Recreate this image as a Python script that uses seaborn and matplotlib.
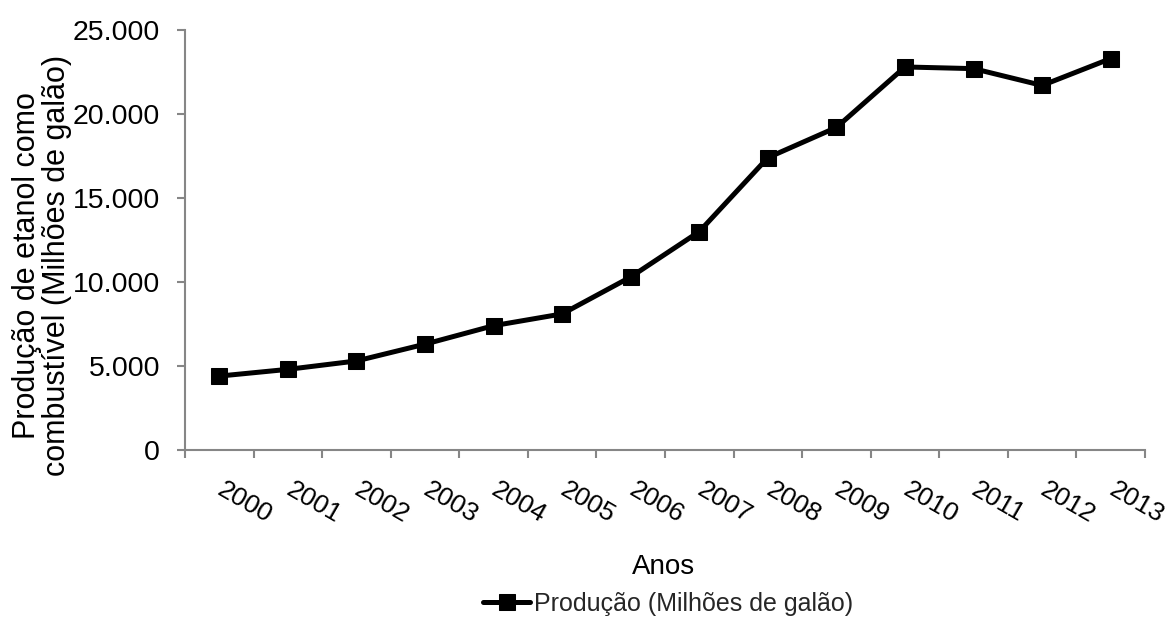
import matplotlib
matplotlib.use("Agg")
import matplotlib.pyplot as plt
import matplotlib.transforms as mtransforms
from matplotlib.ticker import FuncFormatter, FixedLocator
import seaborn as sns
import pandas as pd
import numpy as np

years = [2000, 2001, 2002, 2003, 2004, 2005, 2006, 2007, 2008, 2009, 2010, 2011, 2012, 2013]
production = [4400, 4800, 5300, 6300, 7400, 8100, 10300, 13000, 17400, 19200, 22800, 22700, 21700, 23300]
series_label = "Produção (Milhões de galão)"
y_label = "Produção de etanol como\ncombustível (Milhões de galão)"
x_label = "Anos"
y_ticks = [0, 5000, 10000, 15000, 20000, 25000]

df = pd.DataFrame({"Ano": years, "Producao": production})

sns.set_theme(style="white")
plt.rcParams['font.family'] = ['Liberation Sans', 'DejaVu Sans']

fig = plt.figure(figsize=(11.69, 6.21), dpi=100)
ax = fig.add_axes([185/1169, 1 - 450/621, (1145-185)/1169, 420/621])

sns.lineplot(data=df, x="Ano", y="Producao", ax=ax, color="black", linewidth=3.6,
             marker="s", markersize=11.5, markeredgecolor="black", label=series_label,
             legend=False)

ax.set_xlim(years[0] - 0.5, years[-1] + 0.5)
ax.set_ylim(0, 25000)
ax.yaxis.set_major_locator(FixedLocator(y_ticks))
ax.yaxis.set_major_formatter(FuncFormatter(lambda v, p: f"{v:,.0f}".replace(",", ".")))

ax.xaxis.set_major_locator(FixedLocator(years))
ax.xaxis.set_minor_locator(FixedLocator([y - 0.5 for y in years] + [years[-1] + 0.5]))
ax.set_xticklabels([str(y) for y in years])

for s in ["top", "right"]:
    ax.spines[s].set_visible(False)
for s in ["left", "bottom"]:
    ax.spines[s].set_color("#868686")
    ax.spines[s].set_linewidth(1.5)

ax.tick_params(axis="y", which="major", direction="out", length=6, width=1.5,
               color="#868686", pad=12, labelsize=20.5, labelcolor="black", left=True)
ax.tick_params(axis="x", which="major", length=0, pad=20, labelsize=19, labelcolor="black", bottom=True)
ax.tick_params(axis="x", which="minor", direction="out", length=6, width=1.5,
               color="#868686", bottom=True)

offset = mtransforms.ScaledTranslation(6/100, 0, fig.dpi_scale_trans)
for lbl in ax.get_xticklabels():
    lbl.set_rotation(-30)
    lbl.set_ha("left")
    lbl.set_va("top")
    lbl.set_rotation_mode("anchor")
    lbl.set_transform(lbl.get_transform() + offset)

ax.set_ylabel(y_label, fontsize=22, color="black", linespacing=1.0)
ax.yaxis.set_label_coords(-0.118, 0.44)
ax.set_xlabel("")
fig.text(664/1169, 1 - 567/621, x_label, ha="center", va="center", fontsize=20,
         color="black")

handles, labels = ax.get_legend_handles_labels()
fig.legend(handles, labels, loc="center", bbox_to_anchor=(668/1169, 1 - 604/621),
           frameon=False, prop={"size": 18}, handlelength=1.9,
           handletextpad=0.15, borderpad=0, borderaxespad=0)

fig.savefig("out.png", dpi=100, facecolor="white")
